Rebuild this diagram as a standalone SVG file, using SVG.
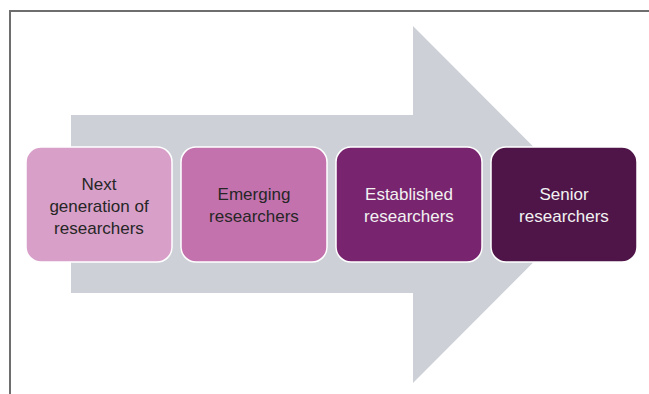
<svg xmlns="http://www.w3.org/2000/svg" width="649" height="394" viewBox="0 0 649 394">
<style>
.box{stroke:#ffffff;stroke-width:1.5}
.t{font-family:"Liberation Sans",Arial,sans-serif;font-size:17px;text-anchor:middle}
.dark{fill:#262626}
.light{fill:#f2f2f2}
</style>
<rect x="0" y="0" width="649" height="394" fill="#ffffff"/>
<g id="frame" stroke="#6e6e6e" stroke-width="2" fill="none">
<line x1="9" y1="11" x2="649" y2="11"/>
<line x1="10" y1="10" x2="10" y2="394"/>
</g>
<g id="arrow">
<polygon points="71,115 413,115 413,26 591,204.5 413,383 413,293 71,293" fill="#cdd1d7"/>
</g>
<g id="connectors"></g>
<g id="node1">
<rect class="box" x="26" y="147" width="146" height="115" rx="15" fill="#d8a0c8"/>
<text class="t dark" x="99" y="190">Next</text>
<text class="t dark" x="99" y="212">generation of</text>
<text class="t dark" x="99" y="234">researchers</text>
</g>
<g id="node2">
<rect class="box" x="181" y="147" width="146" height="115" rx="15" fill="#c472ae"/>
<text class="t dark" x="254" y="200">Emerging</text>
<text class="t dark" x="254" y="222">researchers</text>
</g>
<g id="node3">
<rect class="box" x="336" y="147" width="146" height="115" rx="15" fill="#78246e"/>
<text class="t light" x="409" y="200">Established</text>
<text class="t light" x="409" y="222">researchers</text>
</g>
<g id="node4">
<rect class="box" x="491" y="147" width="146" height="115" rx="15" fill="#4f1548"/>
<text class="t light" x="564" y="200">Senior</text>
<text class="t light" x="564" y="222">researchers</text>
</g>
</svg>
